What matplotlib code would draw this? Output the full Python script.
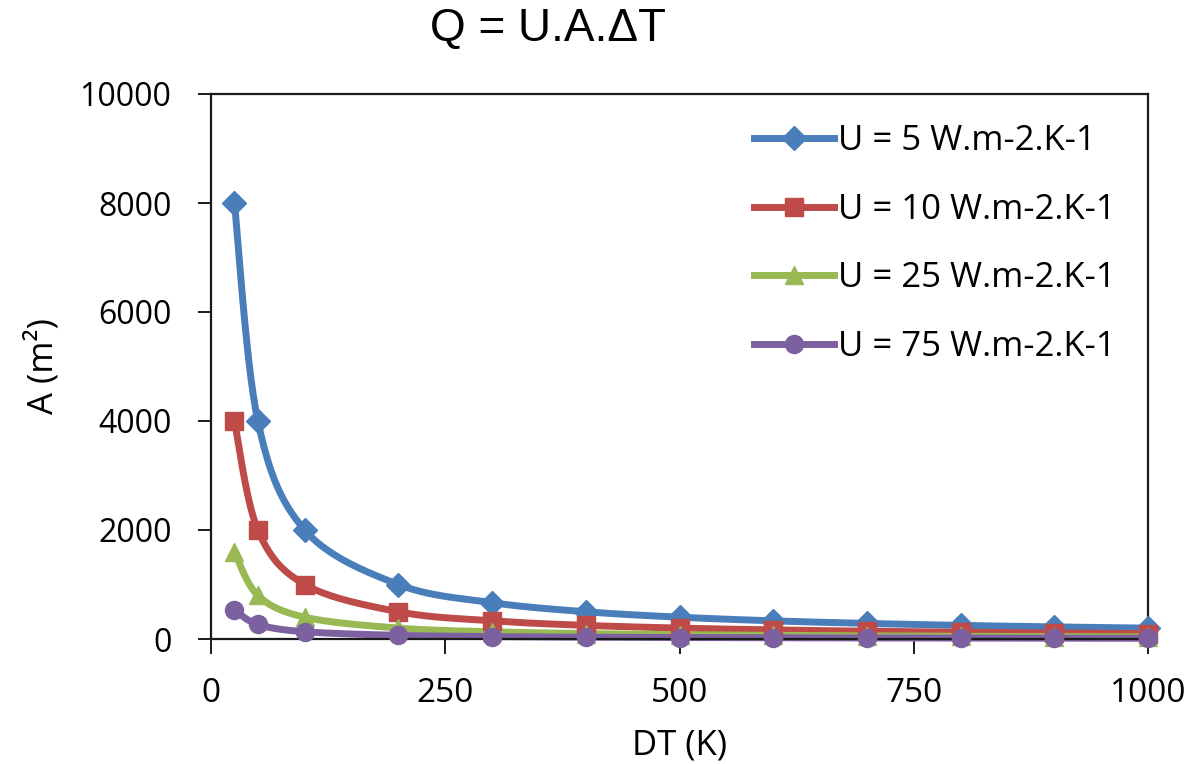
import numpy as np
import matplotlib
matplotlib.use("Agg")
import matplotlib.pyplot as plt

# ---- data ----
dt = [25, 50, 100, 200, 300, 400, 500, 600, 700, 800, 900, 1000]
a_u5 = [8000, 4000, 2000, 1000, 667, 500, 400, 333, 286, 250, 222, 200]
a_u10 = [4000, 2000, 1000, 500, 333, 250, 200, 167, 143, 125, 111, 100]
a_u25 = [1600, 800, 400, 200, 133, 100, 80, 67, 57, 50, 44, 40]
a_u75 = [533, 267, 133, 67, 44, 33, 27, 22, 19, 17, 15, 13]
labels = ["U = 5 W.m-2.K-1", "U = 10 W.m-2.K-1", "U = 25 W.m-2.K-1", "U = 75 W.m-2.K-1"]
colors = ["#4A7EBB", "#BE4B48", "#98B954", "#7D60A0"]
markers = ["D", "s", "^", "o"]
msizes = [12, 13, 13, 13]
xticks = [0, 250, 500, 750, 1000]
yticks = [0, 2000, 4000, 6000, 8000, 10000]


def smooth(x, y, n=30):
    """Excel-style (Catmull-Rom Bezier) smoothed curve through the points."""
    x = np.asarray(x, float)
    y = np.asarray(y, float)
    px = np.concatenate([[x[0]], x, [x[-1]]])
    py = np.concatenate([[y[0]], y, [y[-1]]])
    xs, ys = [], []
    t = np.linspace(0, 1, n)
    for i in range(1, len(px) - 2):
        p0 = np.array([px[i], py[i]])
        p3 = np.array([px[i + 1], py[i + 1]])
        c1 = p0 + (np.array([px[i + 1], py[i + 1]]) - np.array([px[i - 1], py[i - 1]])) / 6
        c2 = p3 - (np.array([px[i + 2], py[i + 2]]) - np.array([px[i], py[i]])) / 6
        b = ((1 - t) ** 3)[:, None] * p0 + (3 * (1 - t) ** 2 * t)[:, None] * c1 \
            + (3 * (1 - t) * t ** 2)[:, None] * c2 + (t ** 3)[:, None] * p3
        xs.append(b[:, 0])
        ys.append(b[:, 1])
    return np.concatenate(xs), np.concatenate(ys)


fig = plt.figure(figsize=(11.94, 7.64), dpi=100)
ax = fig.add_axes([211 / 1194, 1 - 639 / 764, 937 / 1194, 545 / 764])

series = [a_u5, a_u10, a_u25, a_u75]
handles = []
for ys, lab, c, m, ms in zip(series, labels, colors, markers, msizes):
    sx, sy = smooth(dt, ys)
    ax.plot(sx, sy, color=c, lw=5, solid_capstyle="round", zorder=2, clip_on=False)
    ax.plot(dt, ys, linestyle="none", marker=m, ms=ms, color=c, mec=c, zorder=3, clip_on=False)
    h, = ax.plot([], [], color=c, lw=5, marker=m, ms=ms, mec=c, label=lab)
    handles.append(h)

ax.set_xlim(0, 1000)
ax.set_ylim(0, 10000)
ax.set_xticks(xticks)
ax.set_yticks(yticks)

for s in ax.spines.values():
    s.set_linewidth(1.6)
    s.set_color("#1a1a1a")

tick_font = "Open Sans"
ax.tick_params(axis="y", direction="out", length=9.5, width=1.4, pad=19,
               labelsize=23, color="#1a1a1a")
ax.tick_params(axis="x", direction="out", length=11, width=1.4, pad=16,
               labelsize=24, color="#1a1a1a")
for lbl in ax.get_xticklabels() + ax.get_yticklabels():
    lbl.set_fontfamily(tick_font)

ax.set_xlabel("DT (K)", fontsize=25, fontfamily=tick_font, labelpad=14)
ax.set_ylabel("A (m²)", fontsize=25, fontfamily=tick_font, labelpad=14)

fig.text(548 / 1194, 1 - 29 / 764, "Q = U.A.ΔT", fontsize=33, fontfamily="Liberation Sans",
         ha="center", va="center")

leg = ax.legend(handles=handles, loc="upper left", bbox_to_anchor=(0.58, 0.945),
                frameon=False, borderpad=0, borderaxespad=0, handlelength=2.3,
                handletextpad=0.1, labelspacing=1.0, numpoints=1,
                prop={"family": tick_font, "size": 25})

fig.savefig("out.png", dpi=100)
